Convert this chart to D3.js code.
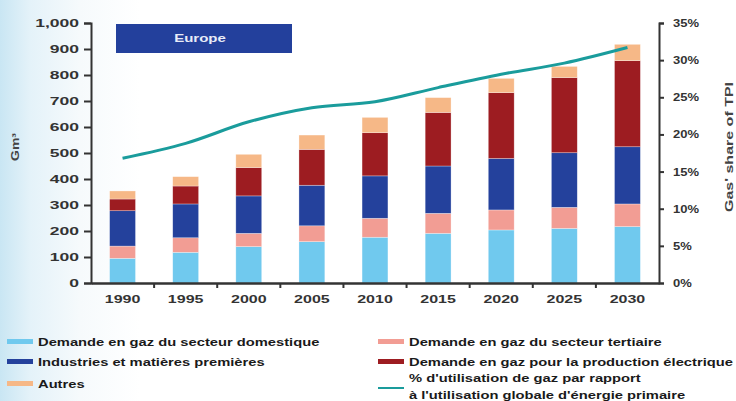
<!DOCTYPE html>
<html>
<head>
<meta charset="utf-8">
<script src="https://cdn.jsdelivr.net/npm/d3@7"></script>
<style>
  html, body { margin: 0; padding: 0; }
  body {
    width: 736px; height: 401px; overflow: hidden;
    background: linear-gradient(to right, #c9e6f3 0px, #e4f2f9 30px, #f6fafc 80px, #ffffff 140px, #ffffff 100%);
  }
  svg { display: block; font-family: "Liberation Sans", Arial, sans-serif; font-weight: bold; }
</style>
</head>
<body>
<svg id="chart" width="736" height="401"></svg>
<script>
// data (Gm3 per year, stacked)
const years = ["1990", "1995", "2000", "2005", "2010", "2015", "2020", "2025", "2030"];
const domestique = [95, 118, 140, 159, 176, 191, 204, 210, 217];
const tertiaire  = [47, 56, 51, 61, 73, 77, 77, 81, 87];
const industries = [136, 130, 144, 156, 163, 182, 198, 210, 220];
const electrique = [45, 69, 109, 138, 166, 206, 253, 289, 331];
const autres     = [31, 36, 51, 55, 59, 57, 55, 43, 63];
const partGaz    = [16.8, 18.8, 21.7, 23.6, 24.4, 26.3, 28.1, 29.6, 31.7];
const leftTicks  = [0, 100, 200, 300, 400, 500, 600, 700, 800, 900, 1000];
const rightTicks = [0, 5, 10, 15, 20, 25, 30, 35];

const series = [
  { key: "domestique", values: domestique, color: "#70c9ee", label: "Demande en gaz du secteur domestique" },
  { key: "tertiaire", values: tertiaire, color: "#f29d94", label: "Demande en gaz du secteur tertiaire" },
  { key: "industries", values: industries, color: "#24419c", label: "Industries et matières premières" },
  { key: "electrique", values: electrique, color: "#9d1c21", label: "Demande en gaz pour la production électrique" },
  { key: "autres", values: autres, color: "#f6b887", label: "Autres" }
];
const lineColor = "#1a9c9c";
const axisColor = "#333";

const svg = d3.select("#chart");

// stretch text horizontally, the source picture is wide-squashed
function widen(sel, k) {
  sel.each(function () {
    const w = this.getComputedTextLength();
    d3.select(this).attr("textLength", w * k).attr("lengthAdjust", "spacingAndGlyphs");
  });
}

const x = d3.scaleBand().domain(years).range([91, 659]).paddingInner(0.59).paddingOuter(0.295);
const y = d3.scaleLinear().domain([0, 1000]).range([283, 23]);
const yr = d3.scaleLinear().domain([0, 35]).range([283, 23]);

// stacked data
const table = years.map((yr_, i) => {
  const row = { year: yr_ };
  series.forEach(s => row[s.key] = s.values[i]);
  return row;
});
const stack = d3.stack().keys(series.map(s => s.key))(table);

svg.append("g").selectAll("g")
  .data(stack)
  .join("g")
  .attr("fill", (d, i) => series[i].color)
  .selectAll("rect")
  .data(d => d)
  .join("rect")
  .attr("x", d => x(d.data.year))
  .attr("y", d => y(d[1]))
  .attr("width", x.bandwidth())
  .attr("height", d => y(d[0]) - y(d[1]))
  .attr("stroke", "rgba(255,255,255,0.5)")
  .attr("stroke-width", 0.6);

// Europe banner
svg.append("rect").attr("x", 116).attr("y", 24).attr("width", 176).attr("height", 29).attr("fill", "#23409c");
svg.append("text").attr("x", 200).attr("y", 42).attr("text-anchor", "middle")
  .attr("fill", "#e8ecf7").attr("font-size", 10).text("Europe")
  .call(widen, 1.5);

// line: gas share of primary energy
const line = d3.line()
  .x((d, i) => x(years[i]) + x.bandwidth() / 2)
  .y(d => yr(d))
  .curve(d3.curveMonotoneX);
svg.append("path").datum(partGaz)
  .attr("d", line).attr("fill", "none")
  .attr("stroke", lineColor).attr("stroke-width", 3);

// left axis
const gl = svg.append("g").attr("transform", "translate(91,0)")
  .call(d3.axisLeft(y).tickValues(leftTicks).tickSize(7).tickPadding(5).tickFormat(d3.format(",")));
gl.select(".domain").attr("stroke", axisColor).attr("stroke-width", 2);
gl.selectAll(".tick line").attr("stroke", axisColor).attr("stroke-width", 2);
gl.selectAll(".tick text").attr("font-size", 10).attr("fill", "#333").attr("dy", "0.35em").call(widen, 1.75);

// right axis
const gr = svg.append("g").attr("transform", "translate(659,0)")
  .call(d3.axisRight(yr).tickValues(rightTicks).tickSize(5).tickPadding(9).tickFormat(d => d + "%"));
gr.select(".domain").attr("stroke", axisColor).attr("stroke-width", 2);
gr.selectAll(".tick line").attr("stroke", axisColor).attr("stroke-width", 2);
gr.selectAll(".tick text").attr("font-size", 10).attr("fill", "#333").attr("dy", "0.35em").call(widen, 1.3);

// bottom axis: labels centred under bars, ticks between bars
const gb = svg.append("g").attr("transform", "translate(0,283)")
  .call(d3.axisBottom(x).tickSize(0).tickPadding(20));
gb.select(".domain").attr("stroke", axisColor).attr("stroke-width", 2.5);
gb.selectAll(".tick text").attr("font-size", 10).attr("fill", "#333").attr("dy", 0).call(widen, 1.6);
const edges = years.slice(1).map(d => x(d) - x.step() * x.paddingInner() / 2);
gb.selectAll(".edge").data(edges).join("line").attr("class", "edge")
  .attr("x1", d => d).attr("x2", d => d).attr("y1", 0).attr("y2", 5)
  .attr("stroke", axisColor).attr("stroke-width", 2);

// axis titles
svg.append("text").attr("transform", "translate(19,147) rotate(-90)")
  .attr("text-anchor", "middle").attr("font-size", 10).attr("fill", "#444").text("Gm³")
  .call(widen, 1.4);
svg.append("text").attr("transform", "translate(733,147) rotate(-90)")
  .attr("text-anchor", "middle").attr("font-size", 10).attr("fill", "#444").text("Gas' share of TPI")
  .call(widen, 1.6);

// legend
const legendItems = [
  { s: series[0], x: 7, y: 346 },
  { s: series[2], x: 7, y: 366 },
  { s: series[4], x: 7, y: 388 },
  { s: series[1], x: 378, y: 346 },
  { s: series[3], x: 378, y: 366 }
];
const lg = svg.append("g");
legendItems.forEach(it => {
  lg.append("rect").attr("x", it.x).attr("y", it.y - 7).attr("width", 26).attr("height", 5).attr("fill", it.s.color);
  lg.append("text").attr("x", it.x + 31).attr("y", it.y).attr("font-size", 11.5).attr("fill", "#1a1a1a")
    .text(it.s.label).call(widen, 1.28);
});
lg.append("line").attr("x1", 378).attr("x2", 404).attr("y1", 388).attr("y2", 388)
  .attr("stroke", lineColor).attr("stroke-width", 2);
lg.append("text").attr("x", 409).attr("y", 382).attr("font-size", 11.5).attr("fill", "#1a1a1a")
  .text("% d'utilisation de gaz par rapport").call(widen, 1.28);
lg.append("text").attr("x", 409).attr("y", 399).attr("font-size", 11.5).attr("fill", "#1a1a1a")
  .text("à l'utilisation globale d'énergie primaire").call(widen, 1.28);
</script>
</body>
</html>
